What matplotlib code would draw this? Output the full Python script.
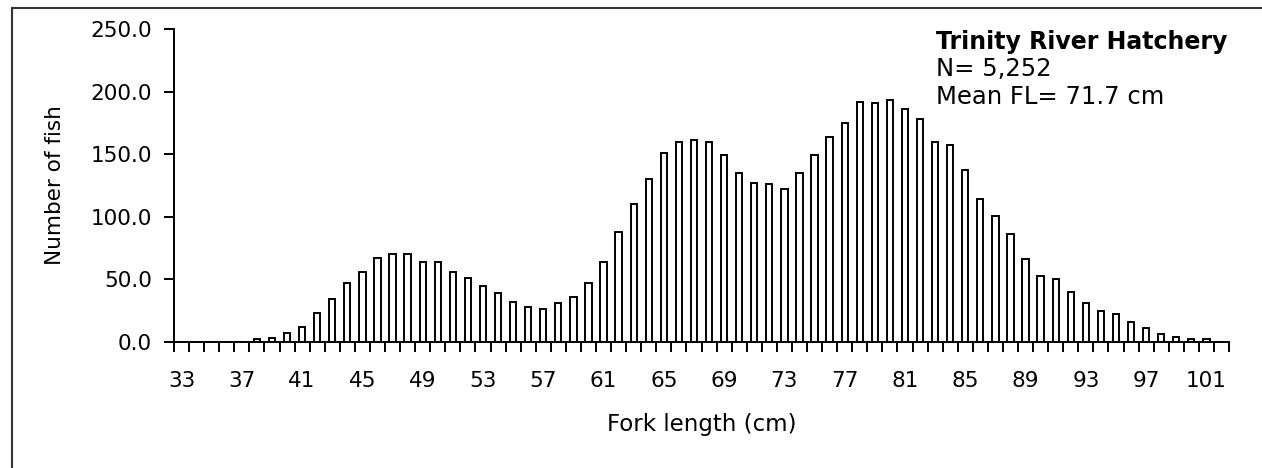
import matplotlib
matplotlib.use("Agg")
import matplotlib.pyplot as plt
from matplotlib.patches import Rectangle
from matplotlib.ticker import FixedLocator, FuncFormatter

plt.rcParams['font.family'] = ['DejaVu Sans']

# Fork length classes (cm) and number of fish in each class
fork_length = list(range(33, 103))
counts = [0, 0, 0, 0, 0, 2, 3, 7, 12, 23,
          34, 47, 56, 67, 70, 70, 64, 64, 56, 51,
          45, 39, 32, 28, 26, 31, 36, 47, 64, 88,
          110, 130, 151, 160, 161, 160, 149, 135, 127, 126,
          122, 135, 149, 164, 175, 192, 191, 193, 186, 178,
          160, 157, 137, 114, 101, 86, 66, 53, 50, 40,
          31, 25, 22, 16, 11, 6, 4, 2, 2, 0]
tick_labels = [str(v) for v in fork_length[::4]]
y_ticks = [0, 50, 100, 150, 200, 250]

title = "Trinity River Hatchery"
n_text = "N= 5,252"
mean_text = "Mean FL= 71.7 cm"

fig = plt.figure(figsize=(12.62, 4.68), dpi=100)
ax = fig.add_axes([174 / 1262, 1 - 342 / 468, (1229 - 174) / 1262, (342 - 29) / 468])

x = list(range(len(fork_length)))
ax.bar(x, counts, width=0.42, color='white', edgecolor='black', linewidth=1.4)

ax.set_xlim(-0.5, len(fork_length) - 0.5)
ax.set_ylim(0, 250)

# labels at class centres, tick marks at class boundaries
ax.set_xticks(x[::4])
ax.set_xticklabels(tick_labels)
ax.xaxis.set_minor_locator(FixedLocator([i - 0.5 for i in range(len(fork_length) + 1)]))
ax.tick_params(axis='x', which='major', length=0, pad=21, labelsize=15.5)
ax.tick_params(axis='x', which='minor', length=7, width=1.4, direction='out')

ax.set_yticks(y_ticks)
ax.yaxis.set_major_formatter(FuncFormatter(lambda v, p: f"{v:.1f}"))
ax.tick_params(axis='y', length=7, width=1.4, direction='out', pad=9, labelsize=15.5)

for side in ('top', 'right'):
    ax.spines[side].set_visible(False)
for side in ('left', 'bottom'):
    ax.spines[side].set_linewidth(1.4)

ax.set_xlabel("Fork length (cm)", fontsize=16.5, labelpad=16)
ax.set_ylabel("Number of fish", fontsize=15.5, labelpad=18)

fig.text(936 / 1262, 1 - 42 / 468, title, fontsize=17, fontweight='bold',
         ha='left', va='center')
fig.text(936 / 1262, 1 - 69 / 468, n_text, fontsize=17.5, ha='left', va='center')
fig.text(936 / 1262, 1 - 97 / 468, mean_text, fontsize=17.5, ha='left', va='center')

# outer frame around the chart
fig.patches.append(Rectangle((12 / 1262, -0.05), 1.2, 1 - 8 / 468 + 0.05,
                             transform=fig.transFigure, fill=False,
                             edgecolor='#333333', linewidth=1.5))

fig.savefig("out.png", dpi=100)
